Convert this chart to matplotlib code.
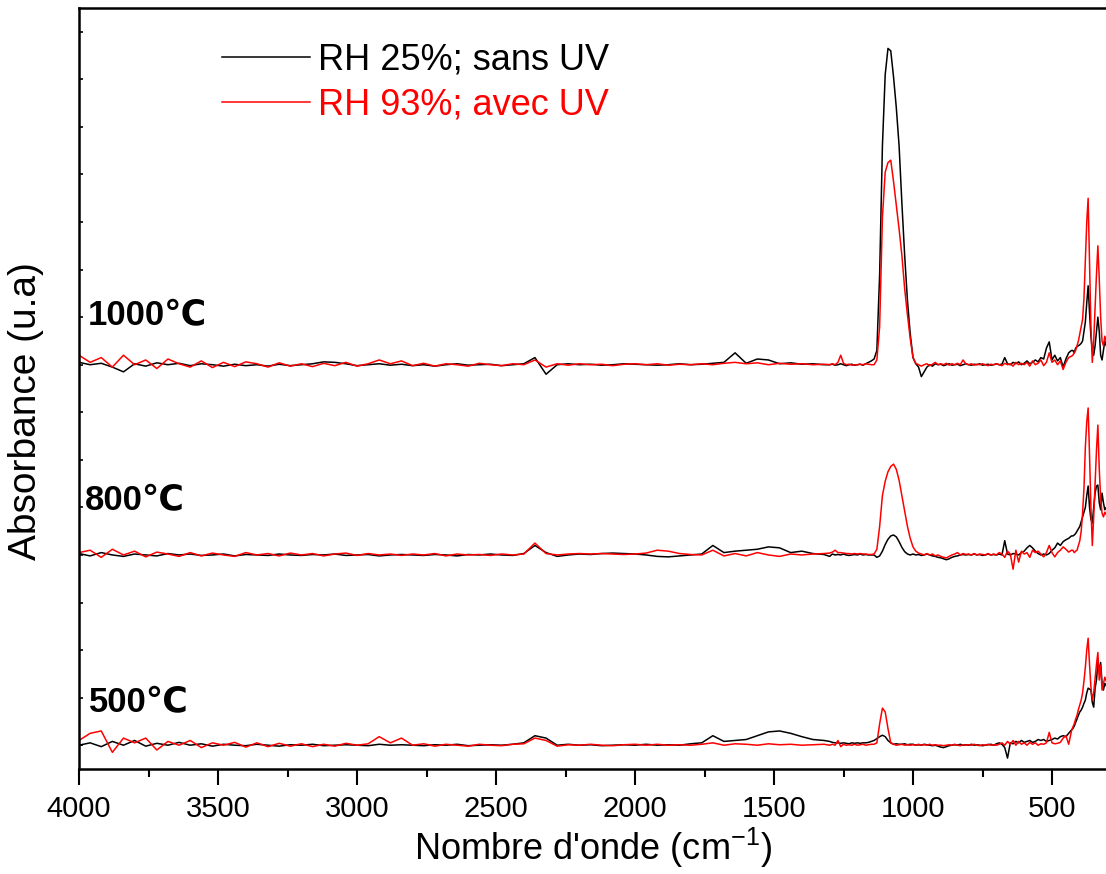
import numpy as np
import matplotlib
matplotlib.use('Agg')
import matplotlib.pyplot as plt
from matplotlib.ticker import MultipleLocator

plt.rcParams['font.family'] = ['Liberation Sans', 'DejaVu Sans']
plt.rcParams['mathtext.default'] = 'regular'

# wavenumber grid (cm-1): coarse in the flat region, finer near the bands
wn = np.concatenate([np.arange(4000, 1319, -40),
                     np.arange(1300, 429, -10),
                     np.arange(425, 299, -5)])

legend_labels = ['RH 25%; sans UV', 'RH 93%; avec UV']
temp_labels = ['1000℃', '800℃', '500℃']
offsets = [8, 4, 0]

# ---- 1000 C ----
a1000_sans = [
    0.05, 0.00, 0.03, -0.05, -0.15, 0.02, -0.03, 0.04, 0.00, 0.03,
    -0.02, 0.02, 0.00, -0.03, 0.01, -0.02, 0.00, -0.03, 0.01, -0.02,
    0.00, 0.02, 0.06, 0.05, 0.02, -0.02, 0.00, 0.02, -0.01, 0.01,
    -0.02, 0.00, -0.03, 0.00, 0.02, -0.01, 0.00, 0.01, -0.02, 0.00,
    0.02, 0.15, -0.20, 0.00, 0.02, 0.00, 0.01, -0.01, 0.00, 0.02,
    0.01, 0.00, -0.01, 0.00, 0.02, 0.00, 0.01, 0.03, 0.05, 0.25,
    0.03, 0.12, 0.10, 0.02, 0.04, 0.01, 0.02, 0.00,
    0.00, 0.01, -0.01, 0.00, 0.02, 0.00, -0.02, 0.00, 0.01, -0.01,
    0.00, 0.01, -0.01, 0.02, 0.05, 0.08, 0.12, 0.30, 1.90, 4.60,
    6.10, 6.65, 6.60, 6.05, 5.40, 4.60, 3.40, 2.30, 1.35, 0.65,
    0.15, 0.02, -0.05, -0.25, -0.15, -0.05, 0.00, -0.03, 0.02, 0.00,
    0.01, -0.02, 0.00, 0.02, -0.01, 0.00, 0.01, -0.02, 0.00, 0.02,
    0.00, -0.01, 0.01, 0.00, 0.02, -0.01, 0.00, 0.01, -0.01, 0.00,
    0.02, 0.00, 0.01, 0.15, 0.02, 0.00, 0.05, 0.02, 0.06, 0.00,
    0.03, 0.08, 0.02, 0.05, 0.10, 0.06, 0.15, 0.12, 0.35, 0.48,
    0.10, 0.20, 0.08, 0.15, -0.05, 0.12, 0.25, 0.30,
    0.30, 0.25, 0.35, 0.38, 0.40, 0.42, 0.45, 0.50, 0.70, 0.90,
    1.30, 1.66, 1.10, 0.60, 0.30, 0.20, 0.40, 0.70, 1.00, 0.70,
    0.20, 0.10, 0.30, 0.50, 0.40, 0.35]
a1000_avec = [
    0.20, 0.05, 0.15, -0.05, 0.20, 0.00, 0.10, -0.08, 0.12, 0.02,
    -0.05, 0.08, -0.06, 0.05, -0.04, 0.06, 0.02, -0.05, 0.04, -0.03,
    0.02, -0.04, 0.03, -0.02, 0.05, -0.03, 0.02, 0.10, 0.02, 0.08,
    -0.02, 0.03, -0.03, 0.02, 0.00, -0.03, 0.03, 0.00, -0.02, 0.02,
    0.00, 0.10, -0.05, 0.02, -0.01, 0.02, 0.00, 0.01, -0.02, 0.01,
    0.02, 0.00, 0.02, -0.01, 0.01, 0.00, 0.02, 0.00, 0.03, 0.05,
    0.02, 0.04, 0.00, 0.03, 0.01, 0.02, 0.00, 0.01,
    0.00, 0.02, 0.00, 0.05, 0.20, 0.03, 0.00, 0.01, -0.01, 0.00,
    0.00, 0.01, 0.00, 0.02, 0.01, 0.00, 0.00, 0.10, 0.80, 3.10,
    4.05, 4.25, 4.30, 3.85, 3.35, 2.85, 2.30, 1.60, 1.05, 0.55,
    0.15, 0.03, 0.00, -0.03, 0.00, 0.02, -0.02, 0.01, 0.05, 0.00,
    0.02, 0.00, 0.03, -0.01, 0.02, 0.00, 0.03, 0.00, 0.10, 0.02,
    0.00, 0.02, -0.01, 0.01, 0.00, 0.02, 0.00, -0.02, 0.01, 0.00,
    0.02, 0.00, -0.02, 0.03, 0.00, 0.02, -0.03, 0.05, 0.00, 0.03,
    0.00, 0.05, -0.03, 0.08, 0.00, 0.03, 0.10, -0.02, 0.05, 0.25,
    0.05, 0.10, 0.00, 0.08, -0.10, 0.05, 0.15, 0.18,
    0.20, 0.25, 0.30, 0.40, 0.50, 0.65, 0.80, 0.95, 1.40, 2.20,
    3.00, 3.50, 2.20, 0.80, 0.05, 0.50, 1.20, 1.90, 2.50, 1.80,
    1.00, 0.50, 0.40, 0.60, 0.50, 0.40]

# ---- 800 C ----
a800_sans = [
    0.03, -0.02, 0.05, 0.00, -0.03, 0.02, 0.00, -0.02, 0.03, 0.00,
    0.02, -0.01, 0.00, 0.02, -0.02, 0.01, 0.00, -0.01, 0.02, 0.00,
    -0.01, 0.01, 0.00, 0.02, -0.01, 0.00, 0.01, -0.02, 0.00, 0.01,
    0.00, -0.01, 0.01, 0.00, -0.02, 0.01, 0.00, 0.02, 0.00, -0.01,
    0.03, 0.20, 0.05, -0.03, 0.00, 0.02, 0.01, 0.03, 0.04, 0.03,
    0.02, 0.00, -0.03, -0.04, -0.02, 0.00, 0.02, 0.20, 0.05, 0.08,
    0.10, 0.12, 0.17, 0.15, 0.05, 0.08, 0.03, 0.01,
    -0.03, 0.02, 0.00, 0.01, 0.00, 0.02, 0.00, -0.01, 0.00, 0.01,
    0.00, 0.02, 0.00, 0.01, 0.00, 0.00, 0.00, -0.05, -0.02, 0.08,
    0.22, 0.33, 0.40, 0.42, 0.38, 0.28, 0.16, 0.07, 0.02, 0.00,
    0.02, 0.00, 0.01, -0.01, 0.00, 0.02, 0.00, -0.02, -0.03, -0.05,
    -0.06, -0.08, -0.10, -0.08, -0.05, -0.03, -0.02, 0.00, 0.01, 0.00,
    0.01, 0.00, 0.02, 0.00, 0.01, -0.01, 0.00, 0.02, 0.00, 0.01,
    0.00, 0.02, 0.00, 0.30, 0.02, 0.00, 0.03, 0.02, 0.00, 0.05,
    0.08, 0.15, 0.20, 0.15, 0.08, 0.03, 0.00, 0.02, 0.00, 0.03,
    0.10, 0.15, 0.25, 0.20, 0.28, 0.32, 0.35, 0.40,
    0.40, 0.42, 0.45, 0.50, 0.55, 0.60, 0.70, 0.80, 0.90, 1.00,
    1.25, 1.45, 1.00, 0.75, 0.67, 1.00, 1.30, 1.45, 1.47, 1.10,
    0.95, 1.30, 1.10, 0.95, 1.00, 0.90]
a800_avec = [
    0.05, 0.10, -0.05, 0.12, 0.00, 0.08, -0.04, 0.06, 0.02, -0.03,
    0.05, -0.02, 0.04, 0.00, -0.03, 0.05, 0.00, 0.03, -0.02, 0.04,
    0.00, 0.03, -0.02, 0.02, 0.04, -0.01, 0.03, 0.00, 0.02, -0.01,
    0.02, 0.00, 0.03, -0.02, 0.02, 0.00, 0.01, -0.01, 0.02, 0.00,
    0.02, 0.25, 0.03, 0.00, 0.02, 0.03, 0.02, 0.03, 0.02, 0.01,
    0.02, 0.04, 0.10, 0.08, 0.03, 0.01, 0.00, 0.10, -0.02, 0.03,
    -0.02, 0.05, 0.00, -0.03, 0.02, 0.00, 0.02, 0.03,
    0.04, 0.06, 0.10, 0.05, 0.05, 0.04, 0.03, 0.03, 0.02, 0.03,
    0.02, 0.03, 0.02, 0.02, 0.01, 0.01, 0.02, 0.12, 0.60, 1.25,
    1.55, 1.75, 1.86, 1.91, 1.80, 1.57, 1.25, 0.92, 0.60, 0.35,
    0.17, 0.08, 0.04, 0.02, 0.00, 0.03, 0.00, 0.02, -0.02, 0.00,
    -0.03, -0.05, -0.06, -0.03, 0.00, 0.02, 0.05, 0.00, 0.03, 0.01,
    0.02, 0.00, 0.03, 0.00, 0.02, 0.01, 0.00, 0.03, 0.00, 0.02,
    0.00, 0.05, 0.02, -0.05, 0.08, 0.02, -0.30, 0.10, -0.15, 0.08,
    0.02, 0.05, -0.05, 0.10, 0.05, 0.08, 0.02, -0.04, 0.05, 0.20,
    0.05, -0.04, 0.05, 0.10, 0.17, 0.12, 0.06, 0.10,
    0.10, 0.05, 0.08, 0.10, 0.20, 0.30, 0.50, 0.88, 1.40, 2.27,
    2.80, 3.09, 2.10, 1.00, 0.20, 0.80, 1.50, 2.20, 2.73, 1.80,
    1.20, 0.88, 0.80, 0.90, 0.85, 0.80]

# ---- 500 C ----
a500_sans = [
    0.00, 0.05, -0.03, 0.08, 0.00, 0.10, -0.02, 0.04, 0.00, 0.06,
    0.00, 0.03, -0.02, 0.02, 0.00, -0.01, 0.02, 0.00, -0.02, 0.01,
    0.00, 0.02, -0.01, 0.00, 0.01, 0.00, -0.01, 0.02, 0.00, 0.01,
    0.00, -0.01, 0.01, 0.00, 0.02, -0.01, 0.00, 0.01, 0.00, 0.02,
    0.05, 0.20, 0.15, 0.00, 0.02, 0.00, 0.01, -0.01, 0.00, 0.01,
    0.00, 0.02, 0.00, 0.01, 0.00, 0.03, 0.05, 0.20, 0.08, 0.10,
    0.12, 0.20, 0.28, 0.30, 0.25, 0.18, 0.12, 0.10,
    0.08, 0.06, 0.05, 0.05, 0.04, 0.05, 0.04, 0.03, 0.05, 0.04,
    0.05, 0.04, 0.05, 0.05, 0.06, 0.08, 0.10, 0.14, 0.18, 0.21,
    0.18, 0.10, 0.05, 0.02, 0.03, 0.02, 0.02, 0.03, 0.01, 0.02,
    0.02, 0.00, 0.01, 0.00, 0.02, 0.01, 0.00, -0.01, 0.00, -0.02,
    -0.04, -0.05, -0.03, -0.01, 0.00, 0.01, 0.00, 0.02, 0.00, 0.01,
    0.00, 0.02, 0.00, 0.01, 0.00, -0.01, 0.00, 0.01, 0.02, 0.00,
    0.03, 0.05, 0.02, -0.05, -0.27, 0.05, 0.03, 0.08, 0.05, 0.10,
    0.06, 0.08, 0.10, 0.06, 0.08, 0.12, 0.10, 0.12, 0.08, 0.10,
    0.12, 0.15, 0.13, 0.18, 0.20, 0.18, 0.25, 0.32,
    0.35, 0.40, 0.48, 0.55, 0.63, 0.70, 0.74, 0.80, 0.88, 0.95,
    1.10, 1.20, 1.18, 1.16, 0.90, 0.80, 1.20, 1.37, 1.74, 1.58,
    1.74, 1.30, 1.16, 1.30, 1.25, 1.20]
a500_avec = [
    0.10, 0.25, 0.30, -0.15, 0.15, 0.05, 0.15, -0.10, 0.08, 0.00,
    0.10, -0.05, 0.05, 0.00, 0.06, -0.04, 0.05, -0.03, 0.04, -0.02,
    0.03, -0.03, 0.02, -0.02, 0.04, 0.00, 0.03, 0.18, 0.05, 0.15,
    0.00, 0.03, -0.02, 0.02, 0.00, -0.02, 0.02, 0.00, -0.01, 0.02,
    0.03, 0.15, 0.10, -0.02, 0.01, 0.00, 0.02, 0.00, -0.01, 0.01,
    0.02, 0.00, 0.02, 0.00, 0.01, 0.00, 0.02, 0.05, 0.00, 0.03,
    0.02, 0.00, 0.03, 0.01, 0.02, 0.00, 0.01, 0.02,
    0.00, 0.02, 0.00, 0.10, -0.03, 0.02, 0.00, 0.01, 0.00, 0.02,
    0.00, 0.01, 0.02, 0.00, 0.01, 0.02, 0.02, 0.05, 0.45, 0.78,
    0.70, 0.35, 0.05, 0.02, 0.00, 0.01, 0.02, 0.00, 0.01, 0.00,
    0.01, 0.00, 0.02, 0.00, 0.01, 0.00, 0.02, 0.00, 0.01, 0.00,
    0.00, -0.01, 0.00, 0.01, 0.00, 0.02, 0.00, -0.01, 0.01, 0.00,
    0.01, 0.00, 0.02, 0.00, -0.01, 0.01, 0.00, 0.02, 0.00, 0.01,
    0.00, 0.02, 0.05, 0.00, 0.08, 0.02, 0.10, 0.00, 0.08, 0.02,
    0.05, 0.00, 0.06, 0.02, 0.05, 0.00, 0.03, 0.02, 0.05, 0.27,
    0.05, 0.03, 0.04, 0.06, 0.15, 0.20, 0.02, 0.30,
    0.38, 0.45, 0.55, 0.63, 0.75, 0.85, 0.95, 1.10, 1.35, 1.64,
    2.00, 2.25, 1.70, 1.22, 0.95, 1.10, 1.40, 1.70, 1.95, 1.37,
    1.68, 1.16, 1.30, 1.43, 1.35, 1.30]

sans_uv = [a1000_sans, a800_sans, a500_sans]
avec_uv = [a1000_avec, a800_avec, a500_avec]

fig = plt.figure(figsize=(11.06, 8.74), dpi=100)
ax = fig.add_axes([79 / 1106, 105 / 874, 1028.6 / 1106, 761 / 874])

for i in range(3):
    lab_s = legend_labels[0] if i == 0 else None
    lab_a = legend_labels[1] if i == 0 else None
    ax.plot(wn, np.array(sans_uv[i]) + offsets[i], color='black', lw=1.1, label=lab_s)
    ax.plot(wn, np.array(avec_uv[i]) + offsets[i], color='red', lw=1.1, label=lab_a)

text_y = [9.04, 5.14, 0.9]
text_x = [3968, 3978, 3965]
for i in range(3):
    ax.text(text_x[i], text_y[i], temp_labels[i], fontsize=25, fontweight='bold',
            ha='left', va='center')

ax.set_xlim(4000, 300)
ax.set_ylim(-0.5, 15.5)
ax.xaxis.set_major_locator(MultipleLocator(500))
ax.xaxis.set_minor_locator(MultipleLocator(250))
ax.yaxis.set_major_locator(MultipleLocator(1))
ax.set_yticklabels([])
ax.tick_params(axis='x', which='major', direction='out', length=11.5, width=1.5,
               labelsize=21, pad=7)
ax.tick_params(axis='x', which='minor', direction='out', length=6, width=1.5)
ax.tick_params(axis='y', which='major', direction='in', length=3, width=1.2)
ax.spines['right'].set_visible(False)
for s in ['left', 'top', 'bottom']:
    ax.spines[s].set_linewidth(1.8)

ax.set_xlabel("Nombre d'onde (cm$^{-1}$)", fontsize=26, labelpad=2)
ax.set_ylabel('Absorbance (u.a)', fontsize=28)
ax.yaxis.set_label_coords(-0.034, 0.47)

ax.legend(loc='upper left', bbox_to_anchor=(0.139, 0.955), frameon=False,
          fontsize=26, handlelength=2.44, handletextpad=0.22, labelspacing=0.28,
          borderpad=0, borderaxespad=0, labelcolor='linecolor')

fig.savefig('out.png', dpi=100)
